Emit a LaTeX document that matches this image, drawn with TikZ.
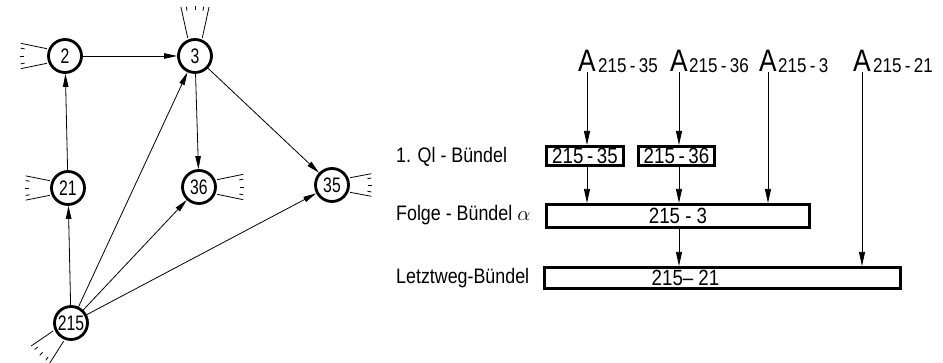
\documentclass[tikz,border=0pt]{standalone}
\usepackage{fontspec}
\setmainfont[FakeStretch=0.85]{Liberation Sans}
\newfontfamily\narrowfont[FakeStretch=0.75]{Liberation Sans}
\usetikzlibrary{arrows.meta, calc, positioning}
\newcommand{\nrfont}{\narrowfont\fontsize{21}{21}\selectfont}
\newcommand{\labfont}{\fontsize{21}{23}\selectfont}
\newcommand{\boxfont}{\fontsize{22}{22}\selectfont}
\newcommand{\bigA}{\fontsize{31}{31}\selectfont}
\newcommand{\subfont}{\fontsize{20}{20}\selectfont}
% trunk fan: node, direction, length
\newcommand{\trunkfan}[3]{%
  \draw[fanline] ($(#1)+(#2+22:19.5)$) -- ($(#1)+(#2+16:#3)$);
  \draw[fanline] ($(#1)+(#2-22:19.5)$) -- ($(#1)+(#2-16:#3)$);
  \foreach \tk in {-10,0,10}
    {\draw[fanline] ($(#1)+(#2+\tk:#3-5)$) -- ($(#1)+(#2+\tk:#3-1)$);}
}

\begin{document}
\begin{tikzpicture}[
    x=1pt, y=1pt,
    stn/.style={circle, draw, line width=2.8pt, minimum size=33pt, inner sep=0pt, font=\nrfont},
    arr/.style={draw, line width=0.8pt, -{Triangle[length=13pt, width=5.5pt]}},
    arrR/.style={draw, line width=0.8pt, -{Triangle[length=14pt, width=6pt]}},
    fanline/.style={line width=0.8pt},
    bund/.style={draw, line width=2.6pt, inner sep=0pt, font=\boxfont},
    lab/.style={anchor=west, inner sep=0pt, font=\labfont},
    aname/.style={anchor=base, inner sep=0pt, font=\bigA},
    asub/.style={anchor=base west, inner sep=0pt, font=\subfont}
]
\useasboundingbox (0,0) rectangle (943,-363);

% graph
\node[stn] (n2) at (65,-56) {2};
\node[stn] (n3) at (195,-56) {3};
\node[stn] (n21) at (68,-188) {21};
\node[stn] (n36) at (199,-187) {36};
\node[stn] (n35) at (332,-185) {35};
\node[stn] (n215) at (71,-323) {215};

\draw[arr] (n2) -- (n3);
\draw[arr] (n21) -- (n2);
\draw[arr] (n215) -- (n21);
\draw[arr] (n215) -- (n3);
\draw[arr] (n215) -- (n36);
\draw[arr] (n215) -- (n35);
\draw[arr] (n3) -- (n36);
\draw[arr] (n3) -- (n35);

\trunkfan{n2}{180}{46}
\trunkfan{n3}{90}{51}
\trunkfan{n21}{180}{44}
\trunkfan{n36}{0}{46}
\trunkfan{n35}{0}{41}
\trunkfan{n215}{226}{46}

% buendel
\node[aname] (a35) at (587,-72) {A};
\node[asub] (s35) at (598,-73) {215\,-\,35};
\node[aname] (a36) at (679,-72) {A};
\node[asub] (s36) at (689,-73) {215\,-\,36};
\node[aname] (a3) at (768,-72) {A};
\node[asub] (s3) at (778,-73) {215\,-\,3};
\node[aname] (a21) at (862,-72) {A};
\node[asub] (s21) at (873,-73) {215\,-\,21};

\node[lab] (l1) at (396,-157) {1. Ql - Bündel};
\node[lab] (l2) at (396,-215) {Folge - Bündel $\alpha$};
\node[lab] (l3) at (396,-278) {Letztweg-Bündel};

\node[bund, line width=3pt, minimum width=77pt, minimum height=19pt] (b35) at (585,-156) {215\,-\,35};
\node[bund, line width=3pt, minimum width=76pt, minimum height=19pt] (b36) at (676.5,-156) {215\,-\,36};
\node[bund, minimum width=263.5pt, minimum height=23.5pt] (bF) at (678,-216) {215 - 3};
\node[bund, minimum width=356.5pt, minimum height=21.5pt] (bL) at (722.5,-278) {};
\node[inner sep=0pt, font=\boxfont] (tL) at (685.5,-278) {215-- 21};

\draw[arrR] (a35.south) -- (a35 |- b35.north);
\draw[arrR] (a36.south) -- (a36 |- b36.north);
\draw[arrR] (a35 |- b35.south) -- (a35 |- bF.north);
\draw[arrR] (a36 |- b36.south) -- (a36 |- bF.north);
\draw[arrR] (a3.south) -- (a3 |- bF.north);
\draw[arrR] (a36 |- bF.south) -- (a36 |- bL.north);
\draw[arrR] (a21.south) -- (a21 |- bL.north);

\end{tikzpicture}
\end{document}
